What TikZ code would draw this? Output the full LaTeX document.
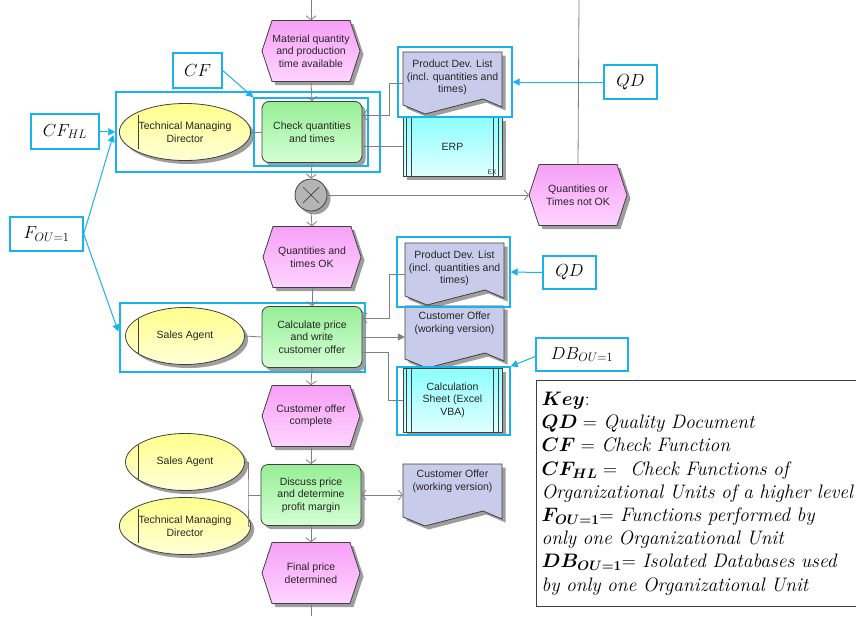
\RequirePackage{fix-cm}
\documentclass[tikz,border=0pt]{standalone}
\usepackage{fontspec}
\usepackage{bm}
\usetikzlibrary{shapes.geometric,arrows.meta,calc,shadows}
\newfontfamily\arial{Liberation Sans}
\definecolor{lblue}{RGB}{25,178,238}
\definecolor{evtop}{RGB}{246,160,246}
\definecolor{evbot}{RGB}{255,212,255}
\definecolor{fntop}{RGB}{150,238,150}
\definecolor{fnbot}{RGB}{212,255,212}
\definecolor{ortop}{RGB}{255,255,140}
\definecolor{orbot}{RGB}{255,255,215}
\definecolor{docfill}{RGB}{200,204,234}
\definecolor{dbtop}{RGB}{140,255,255}
\definecolor{dbbot}{RGB}{225,255,255}
\definecolor{xorgray}{RGB}{180,180,180}
\tikzset{
  shd/.style={drop shadow={shadow xshift=3.5pt,shadow yshift=-3.5pt,fill=black!38,opacity=1}},
  base/.style={font=\arial\fontsize{10.5}{12.5}\selectfont, text=black!85, align=center},
  evshape/.style={draw=black!75, line width=0.8pt, top color=evtop, bottom color=evbot, shd},
  evnode/.style={base, minimum width=98pt, minimum height=61pt, inner sep=0pt},
  fn/.style={base, draw=black!75, line width=0.8pt, rounded corners=7pt, top color=fntop, bottom color=fnbot,
    minimum width=100pt, minimum height=61pt, inner sep=1pt, shd},
  org/.style={base, ellipse, draw=black!75, line width=0.8pt, top color=ortop, bottom color=orbot,
    minimum width=119pt, minimum height=57pt, inner sep=0pt, shd},
  docshape/.style={draw=black!75, line width=0.8pt, fill=docfill, shd},
  docnode/.style={minimum width=99pt, minimum height=62pt, inner sep=0pt},
  dbnode/.style={base, draw=black!75, line width=0.8pt, top color=dbtop, bottom color=dbbot,
    minimum width=99pt, inner sep=0pt, shd},
  dbline/.style={draw=black!75, line width=0.7pt},
  xorn/.style={circle, draw=black!75, line width=0.8pt, fill=xorgray, minimum size=32pt, inner sep=0pt, shd},
  conn/.style={draw=black!50, line width=0.8pt},
  oarr/.style={conn, -{Straight Barb[length=4pt,width=10pt]}},
  bbox/.style={draw=lblue, line width=1.4pt, inner sep=0pt},
  lbl/.style={bbox, fill=white, font=\fontsize{17.5}{20}\selectfont, inner sep=0pt},
  barr/.style={draw=lblue, line width=1pt, -{Triangle[length=7pt,width=7pt]}},
  keybox/.style={draw=black!75, line width=1.2pt, anchor=north west, text width=340pt, align=left,
    minimum height=226pt, inner xsep=5pt, font=\fontsize{19.5}{23.2}\selectfont}
}
\newcommand\evhex[4]{%
  \path[evshape] (#2-49,#3) -- (#2-39,#3-30.5) -- (#2+39,#3-30.5) -- (#2+49,#3)
     -- (#2+39,#3+30.5) -- (#2-39,#3+30.5) -- cycle;
  \node[evnode] (#1) at (#2,#3) {#4};}
\newcommand\docu[5]{%
  \path[docshape] (#2,#3) -- (#2+99,#3) -- (#2+99,#3+55) -- (#2+80,#3+47)
     -- (#2+22,#3+62) -- (#2,#3+53) -- cycle;
  \node[docnode] (#1) at (#2+49.5,#3+31) {};
  \node[base, anchor=north, inner sep=0pt] (#1-t) at (#2+49.5,#3+#5) {#4};}
\newcommand\dbsides[1]{%
  \draw[dbline] ($(#1.north west)+(4,0)$) -- ($(#1.south west)+(4,0)$);
  \draw[dbline] ($(#1.north west)+(9,0)$) -- ($(#1.south west)+(9,0)$);
  \draw[dbline] ($(#1.north east)+(-9,0)$) -- ($(#1.south east)+(-9,0)$);
  \draw[dbline] ($(#1.north east)+(-4,0)$) -- ($(#1.south east)+(-4,0)$);}
\newcommand\orgline[1]{%
  \draw[dbline] ($(#1.center)+(-47,-17)$) -- ($(#1.center)+(-47,17)$);}
\begin{document}
\begin{tikzpicture}[x=1pt,y=-1pt]
\useasboundingbox (0,0) rectangle (856,616);
\fill[white] (0,0) rectangle (856,616);
\clip (0,0) rectangle (856,616);

% blue frames (behind)
\node[bbox, minimum width=264pt, minimum height=80pt] (cfhlbox) at (248,132) {};
\node[bbox, minimum width=245pt, minimum height=69pt] (fbox) at (242.5,337.5) {};

% events
\evhex{e1}{311}{51}{Material quantity\\and production\\time available}
\evhex{e2}{578}{195}{Quantities or\\Times not OK}
\evhex{e3}{312}{257}{Quantities and\\times OK}
\evhex{e4}{311}{416}{Customer offer\\complete}
\evhex{e5}{311}{573}{Final price\\determined}

% functions
\node[fn] (f1) at (312,132) {Check quantities\\and times};
\node[fn] (f2) at (312,337) {Calculate price\\and write\\customer offer};
\node[fn] (f3) at (311,495) {Discuss price\\and determine\\profit margin};

% org units
\node[org] (tmd1) at (185,132) {Technical Managing\\Director};
\node[org] (sa1) at (185,336) {Sales Agent};
\node[org] (sa2) at (185,462) {Sales Agent};
\node[org] (tmd2) at (185,526) {Technical Managing\\Director};
\orgline{tmd1}\orgline{sa1}\orgline{sa2}\orgline{tmd2}

% documents
\docu{pdl1}{403}{52}{Product Dev. List\\(incl. quantities and\\times)}{8}
\docu{pdl2}{405}{243}{Product Dev. List\\(incl. quantities and\\times)}{8}
\docu{co1}{405}{306}{Customer Offer\\(working version)}{6}
\docu{co2}{403}{464}{Customer Offer\\(working version)}{6}

% databases
\node[dbnode, minimum height=59pt] (erp) at (452.5,146.5) {ERP};
\dbsides{erp}
\node[font=\arial\fontsize{6.5}{7}\selectfont, text=black!85, inner sep=0pt] (ex) at (492,172) {EX};
\node[dbnode, minimum height=64pt] (calc) at (452.5,400) {Calculation\\Sheet (Excel\\VBA)};
\dbsides{calc}

% XOR
\node[xorn] (xor) at (311,195) {};
\draw[dbline] ($(xor.center)+(-8,-8)$) -- ($(xor.center)+(8,8)$);
\draw[dbline] ($(xor.center)+(-8,8)$) -- ($(xor.center)+(8,-8)$);

% other blue frames
\node[bbox, minimum width=114pt, minimum height=68pt] (cfbox) at (311,132) {};
\node[bbox, minimum width=114pt, minimum height=70pt] (qdbox1) at (455,82) {};
\node[bbox, minimum width=113pt, minimum height=70pt] (qdbox2) at (453.5,272) {};
\node[bbox, minimum width=113pt, minimum height=68pt] (dbbox) at (453.5,401) {};

% connectors
\coordinate (top) at (311,0);
\coordinate (topr) at (579,0);
\coordinate (bot) at (311,616);
\draw[oarr] (top) -- (e1.north);
\draw[oarr] (e1.south) -- (f1.north);
\draw[conn] (tmd1.east) -- (f1.west);
\draw[oarr] (pdl1.west) -- ++(-13,0) |- ($(f1.east)+(0,-17)$);
\draw[conn] (erp.west) -- (erp.west -| f1.east);
\draw[oarr] (f1.south) -- (xor.north);
\draw[oarr] (xor.east) -- (e2.west);
\draw[conn] (topr) -- (e2.north);
\draw[oarr] (xor.south) -- (e3.north);
\draw[oarr] (e3.south) -- (f2.north);
\draw[conn] (sa1.east) -- (f2.west);
\draw[oarr] (pdl2.west) -- ++(-15,0) |- ($(f2.east)+(0,-19)$);
\draw[conn, -{Triangle[length=7pt,width=7pt]}] (f2.east) -- (co1.west);
\draw[conn] ($(f2.east)+(0,15)$) -- ++(26,0) |- (calc.west);
\draw[oarr] (f2.south) -- (e4.north);
\draw[oarr] (e4.south) -- (f3.north);
\draw[conn] (sa2.east) -| (248,495) |- (tmd2.east);
\draw[conn] (248,495) -- (f3.west);
\draw[conn, {Straight Barb[length=4pt,width=10pt]}-{Straight Barb[length=4pt,width=10pt]}] (f3.east) -- (co2.west);
\draw[oarr] (f3.south) -- (e5.north);
\draw[conn] (e5.south) -- (bot);

% labels
\node[lbl, minimum width=49pt, minimum height=35pt] (cf) at (197.5,70.5) {$CF$};
\node[lbl, minimum width=53pt, minimum height=34pt] (qd1) at (630.5,82) {$QD$};
\node[lbl, minimum width=68pt, minimum height=35pt] (cfhl) at (65,131.5) {$CF_{HL}$};
\node[lbl, minimum width=73pt, minimum height=34pt] (fou) at (46.5,234) {$F_{OU=1}$};
\node[lbl, minimum width=53pt, minimum height=33pt] (qd2) at (569.5,272.5) {$QD$};
\node[lbl, minimum width=92pt, minimum height=33pt] (db) at (582,354.5) {$DB_{OU=1}$};

\draw[barr] (cf.east) -- (cfbox.north west);
\draw[barr] (qd1.west) -- (qdbox1.east);
\draw[barr] (cfhl.east) -- (cfhlbox.west);
\draw[barr] (fou.east) -- ($(cfhlbox.west)+(-2,3)$);
\draw[barr] (fou.east) -- ($(fbox.west)+(-1,-6)$);
\draw[barr] (qd2.west) -- (qdbox2.east);
\draw[barr] ($(db.west)+(0,2)$) -- (dbbox.north east);

% key
\node[keybox] (key) at (536,380) {%
$\bm{Key}$:\\
$\bm{QD}=$ \textit{Quality Document}\\
$\bm{CF}=$ \textit{Check Function}\\
$\bm{CF_{HL}}=$\ \ \textit{Check Functions of}\\
\textit{Organizational Units of a higher level}\\
$\bm{F_{OU=1}}$= \textit{Functions performed by}\\
\textit{only one Organizational Unit}\\
$\bm{DB_{OU=1}}$= \textit{Isolated Databases used}\\
\textit{by only one Organizational Unit}};
\end{tikzpicture}
\end{document}
